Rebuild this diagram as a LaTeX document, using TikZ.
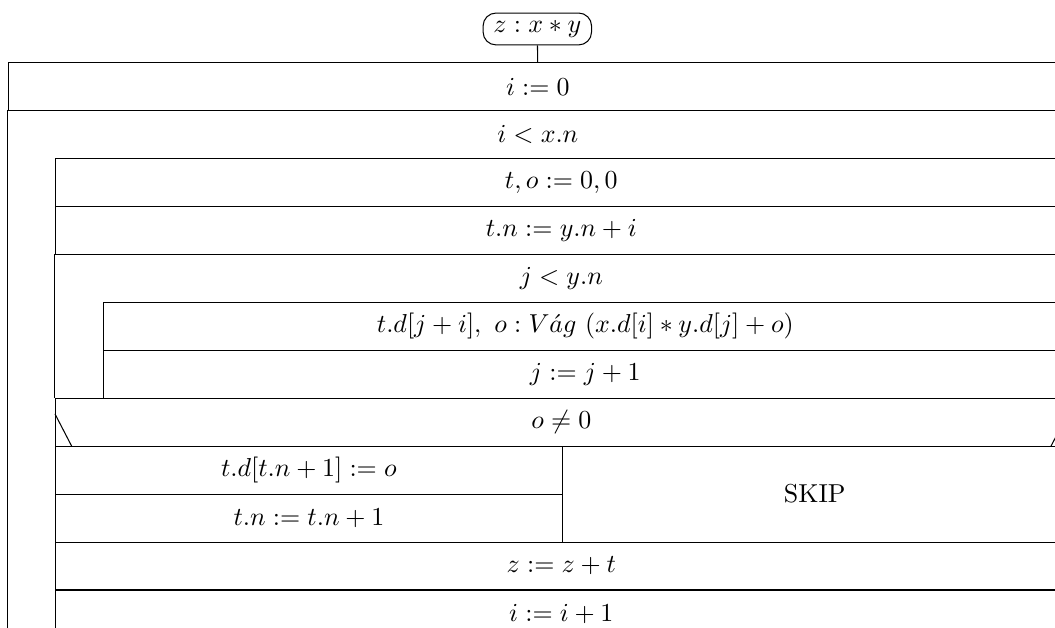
\documentclass[tikz,border=0pt]{standalone}
\usepackage{amsmath, amssymb}
\usepackage{tikz}
\usetikzlibrary{positioning}

\begin{document}
\begin{tikzpicture}[
    font=\normalsize,
    start/.style={draw, rounded corners=5pt, minimum height=12.3pt, inner xsep=4pt, inner ysep=0pt},
    hdr/.style={anchor=north west, minimum height=0.65cm, inner sep=0pt, align=center},
    stmt/.style={hdr, draw},
    full/.style={stmt, minimum width=14.35cm},
    body/.style={stmt, minimum width=13.713cm},
    inner/.style={stmt, minimum width=13.062cm},
    half/.style={stmt, minimum width=6.87cm},
    arr/.style={thin}
]
\useasboundingbox (0,0) rectangle (14.30,-8.50);
\clip (0,0) rectangle (14.30,-8.50);

\node[start] (start) at (7.283, -0.393) {$z : x * y$};

% outer loop
\node[full] (init)  at (0.108, -0.84) {$i := 0$};
\node[hdr, minimum width=14.35cm] (outer) at (0.108, -1.49) {$i < x.n$};

% loop body
\node[body] (reset)   at (0.745, -2.14) {$t, o := 0, 0$};
\node[body] (setlen)  at (0.745, -2.79) {$t.n := y.n + i$};
\node[hdr, minimum width=13.713cm] (innerhd) at (0.745, -3.44) {$j < y.n$};

% inner loop body
\node[inner] (mult) at (1.396, -4.09) {$t.d[j+i],\ o : V\acute{a}g\ (x.d[i] * y.d[j] + o)$};
\node[inner] (incj) at (1.396, -4.74) {$j := j + 1$};

% branch on carry
\node[body] (cond)  at (0.745, -5.39) {$o \neq 0$};
\node[half] (store) at (0.745, -6.04) {$t.d[t.n+1] := o$};
\node[half] (grow)  at (0.745, -6.69) {$t.n := t.n + 1$};
\node[stmt, minimum width=6.843cm, minimum height=1.30cm] (skip) at (7.615, -6.04) {SKIP};

\node[body] (add)  at (0.745, -7.34) {$z := z + t$};
\node[body] (inci) at (0.745, -7.99) {$i := i + 1$};

% loop bars
\draw (outer.north west) -- (outer.north west |- inci.south);
\draw (innerhd.north west) -- (innerhd.north west |- cond.north);

% branch corners
\draw ([yshift=-0.22cm]cond.north west) -- ([xshift=0.23cm]cond.south west);
\draw ([yshift=-0.22cm]cond.north east) -- ([xshift=-0.23cm]cond.south east);

% start --> first statement
\draw[arr] (start) -- (init);

\end{tikzpicture}
\end{document}
